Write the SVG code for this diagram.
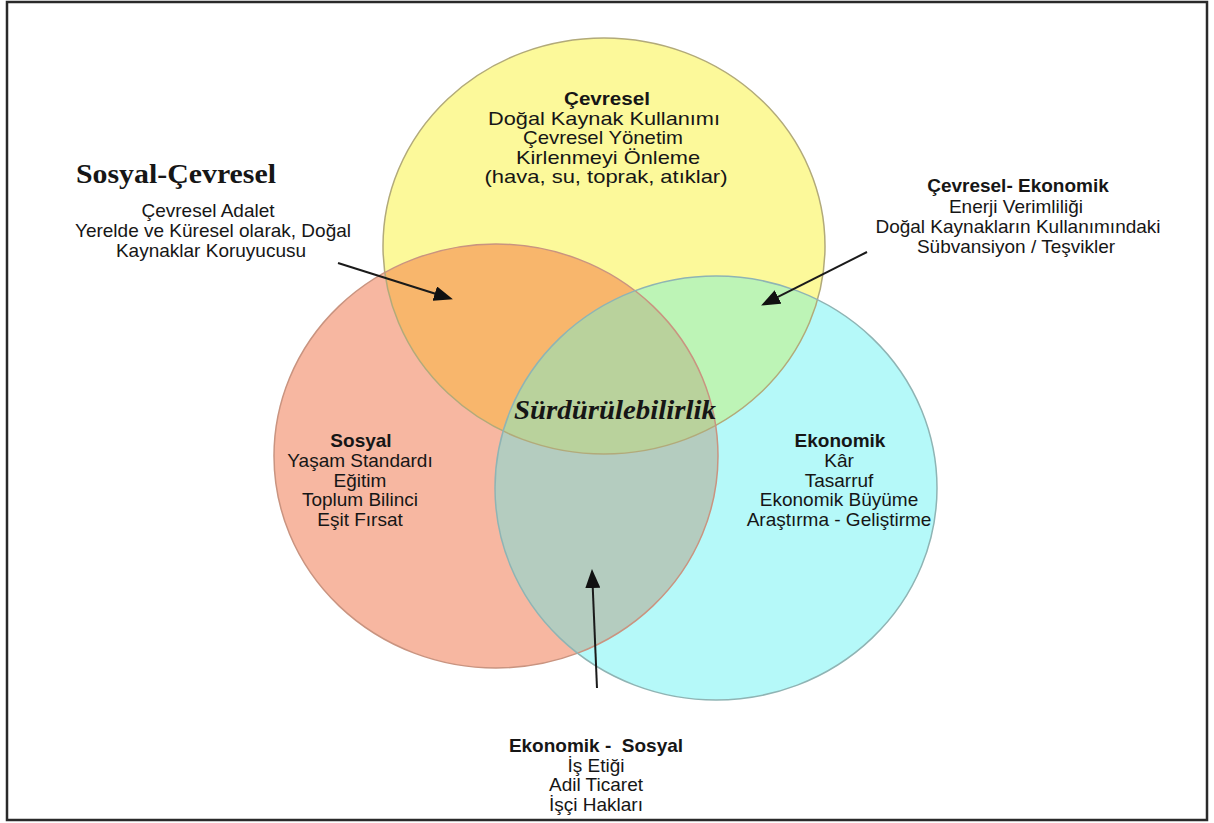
<svg xmlns="http://www.w3.org/2000/svg" width="1214" height="823" viewBox="0 0 1214 823">
<style>
.sans{font-family:"Liberation Sans",Arial,sans-serif;font-size:19px;fill:#161616;text-anchor:middle}
.b{font-weight:bold}
.serif{font-family:"Liberation Serif","Times New Roman",serif;font-weight:bold;fill:#161616;text-anchor:middle}
.arrow{stroke:#1a1a1a;stroke-width:2;fill:none;marker-end:url(#ah)}
</style>
<defs>
<marker id="ah" markerUnits="userSpaceOnUse" markerWidth="19" markerHeight="15" refX="4" refY="7.5" orient="auto">
<path d="M0,0 L19,7.5 L0,15 z" fill="#111"/>
</marker>
<clipPath id="cY"><ellipse cx="604" cy="246" rx="221" ry="208"/></clipPath>
<clipPath id="cP"><ellipse cx="496" cy="456" rx="222" ry="212"/></clipPath>
</defs>
<rect x="7" y="2" width="1200" height="818" fill="#fff" stroke="#2a2a2a" stroke-width="2.5"/>

<g id="circles">
<ellipse cx="496" cy="456" rx="222" ry="212" fill="#F7B7A1"/>
<ellipse cx="716" cy="488" rx="221" ry="212" fill="#B5F9F9"/>
<ellipse cx="604" cy="246" rx="221" ry="208" fill="#FCF99A"/>
<ellipse cx="496" cy="456" rx="222" ry="212" fill="#F8B66C" clip-path="url(#cY)"/>
<ellipse cx="716" cy="488" rx="221" ry="212" fill="#BDF4B6" clip-path="url(#cY)"/>
<ellipse cx="716" cy="488" rx="221" ry="212" fill="#B4CCBF" clip-path="url(#cP)"/>
<g clip-path="url(#cY)"><ellipse cx="716" cy="488" rx="221" ry="212" fill="#B9D29C" clip-path="url(#cP)"/></g>
<ellipse cx="604" cy="246" rx="221" ry="208" fill="none" stroke="#b2aa7a" stroke-width="1.5"/>
<ellipse cx="496" cy="456" rx="222" ry="212" fill="none" stroke="#c99480" stroke-width="1.5"/>
<ellipse cx="716" cy="488" rx="221" ry="212" fill="none" stroke="#8fb4b4" stroke-width="1.5"/>
</g>

<g id="cevresel">
<text class="sans b" x="607" y="105" textLength="86" lengthAdjust="spacingAndGlyphs">Çevresel</text>
<text class="sans" x="604" y="125" textLength="232" lengthAdjust="spacingAndGlyphs">Doğal Kaynak Kullanımı</text>
<text class="sans" x="603" y="144" textLength="160" lengthAdjust="spacingAndGlyphs">Çevresel Yönetim</text>
<text class="sans" x="608" y="164" textLength="184" lengthAdjust="spacingAndGlyphs">Kirlenmeyi Önleme</text>
<text class="sans" x="606" y="183" textLength="243" lengthAdjust="spacingAndGlyphs">(hava, su, toprak, atıklar)</text>
</g>

<g id="sosyal-cevresel">
<text class="serif" x="176" y="183" font-size="27" textLength="200" lengthAdjust="spacingAndGlyphs">Sosyal-Çevresel</text>
<text class="sans" x="208" y="217">Çevresel Adalet</text>
<text class="sans" x="213" y="237">Yerelde ve Küresel olarak, Doğal</text>
<text class="sans" x="211" y="257">Kaynaklar Koruyucusu</text>
</g>

<g id="cevresel-ekonomik">
<text class="sans b" x="1018" y="192">Çevresel- Ekonomik</text>
<text class="sans" x="1016" y="213">Enerji Verimliliği</text>
<text class="sans" x="1018" y="233">Doğal Kaynakların Kullanımındaki</text>
<text class="sans" x="1016" y="253">Sübvansiyon / Teşvikler</text>
</g>

<g id="sosyal">
<text class="sans b" x="361" y="447">Sosyal</text>
<text class="sans" x="360" y="467">Yaşam Standardı</text>
<text class="sans" x="360" y="487">Eğitim</text>
<text class="sans" x="360" y="506">Toplum Bilinci</text>
<text class="sans" x="360" y="526">Eşit Fırsat</text>
</g>

<g id="ekonomik">
<text class="sans b" x="840" y="447">Ekonomik</text>
<text class="sans" x="839" y="467">Kâr</text>
<text class="sans" x="839" y="487">Tasarruf</text>
<text class="sans" x="839" y="506">Ekonomik Büyüme</text>
<text class="sans" x="839" y="526">Araştırma - Geliştirme</text>
</g>

<g id="surdurulebilirlik">
<text class="serif" x="615" y="419" font-size="27" font-style="italic" textLength="202" lengthAdjust="spacingAndGlyphs">Sürdürülebilirlik</text>
</g>

<g id="ekonomik-sosyal">
<text class="sans b" x="596" y="752" xml:space="preserve">Ekonomik -  Sosyal</text>
<text class="sans" x="596" y="772">İş Etiği</text>
<text class="sans" x="596" y="791">Adil Ticaret</text>
<text class="sans" x="596" y="811">İşçi Hakları</text>
</g>

<g id="connectors">
<line class="arrow" x1="338" y1="263" x2="438.6" y2="294.8"/>
<line class="arrow" x1="867" y1="252" x2="774.5" y2="298.7"/>
<line class="arrow" x1="597" y1="688" x2="592.6" y2="584"/>
</g>
</svg>
